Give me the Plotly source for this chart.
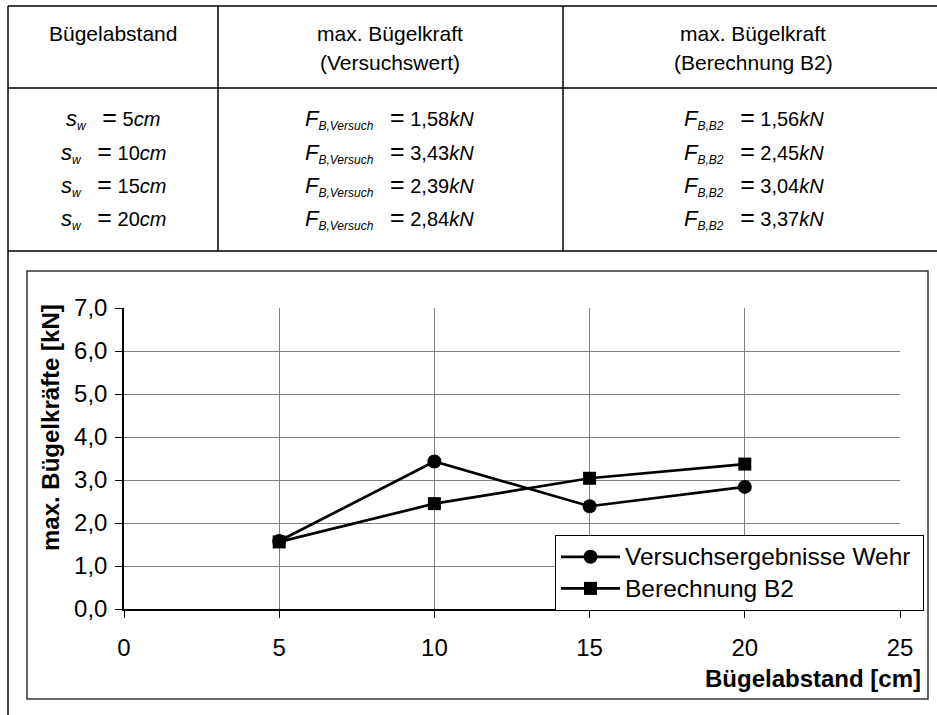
import plotly.graph_objects as go

# ---- data ----
spacing_cm = [5, 10, 15, 20]
force_versuch = [1.58, 3.43, 2.39, 2.84]
force_b2 = [1.56, 2.45, 3.04, 3.37]
series_names = ["Versuchsergebnisse Wehr", "Berechnung B2"]
header_col1 = ["Bügelabstand"]
header_col2 = ["max. Bügelkraft", "(Versuchswert)"]
header_col3 = ["max. Bügelkraft", "(Berechnung B2)"]
x_title = "Bügelabstand [cm]"
y_title = "max. Bügelkräfte [kN]"

W, H = 937, 715
FONT = "Arial, Liberation Sans, sans-serif"
NB = "\u00a0"


def px(x):
    return x / W


def py(y):
    return 1 - y / H


def de(v):
    return f"{v:.2f}".replace(".", ",")


def legend_label(name):
    return f'<span style="font-size:24.5px">{name}{NB}</span>'


fig = go.Figure()
fig.add_trace(go.Scatter(
    x=spacing_cm, y=force_versuch, name=legend_label(series_names[0]), mode="lines+markers",
    line=dict(color="black", width=2.7),
    marker=dict(symbol="circle", size=14, color="black"),
))
fig.add_trace(go.Scatter(
    x=spacing_cm, y=force_b2, name=legend_label(series_names[1]), mode="lines+markers",
    line=dict(color="black", width=2.7),
    marker=dict(symbol="square", size=13, color="black"),
))

shapes = []
line_kw = dict(color="black", width=1.5)
# table lines
shapes.append(dict(type="line", xref="paper", yref="paper", x0=px(8), x1=1, y0=py(6), y1=py(6), line=line_kw))
shapes.append(dict(type="line", xref="paper", yref="paper", x0=px(8), x1=1, y0=py(88), y1=py(88), line=line_kw))
shapes.append(dict(type="line", xref="paper", yref="paper", x0=px(8), x1=1, y0=py(251), y1=py(251), line=line_kw))
shapes.append(dict(type="line", xref="paper", yref="paper", x0=px(8), x1=px(8), y0=py(6), y1=0, line=line_kw))
shapes.append(dict(type="line", xref="paper", yref="paper", x0=px(218), x1=px(218), y0=py(6), y1=py(251), line=line_kw))
shapes.append(dict(type="line", xref="paper", yref="paper", x0=px(563), x1=px(563), y0=py(6), y1=py(251), line=line_kw))
# chart box
shapes.append(dict(type="rect", xref="paper", yref="paper", x0=px(27), x1=px(928), y0=py(699), y1=py(271),
                   line=dict(color="#333333", width=1.5), layer="below"))

ann = []


def add_text(text, x, y, size=20, **kw):
    d = dict(text=text, x=px(x), y=py(y), xref="paper", yref="paper", showarrow=False,
             xanchor="center", yanchor="middle", font=dict(family=FONT, size=size, color="black"))
    d.update(kw)
    ann.append(d)


header_y = [33, 63]
add_text(header_col1[0], 113, 33, size=21)
for j, t in enumerate(header_col2):
    add_text(t, 390, header_y[j], size=21)
for j, t in enumerate(header_col3):
    add_text(t, 753, header_y[j], size=21)

row_y = [118, 152, 185, 218]
SUB = '<span style="font-size:12px">'
BIG = '<span style="font-size:22px">'
EQ = NB * 3 + '<span style="font-size:25px">=</span>' + NB
for i, s in enumerate(spacing_cm):
    add_text(f"{BIG}<i>s</i></span><sub>{SUB}<i>w</i></span></sub>{EQ}{s}<i>cm</i>", 113, row_y[i])
    add_text(f"{BIG}<i>F</i></span><sub>{SUB}<i>B,Versuch</i></span></sub>{EQ}{de(force_versuch[i])}<i>kN</i>",
             389, row_y[i])
    add_text(f"{BIG}<i>F</i></span><sub>{SUB}<i>B,B2</i></span></sub>{EQ}{de(force_b2[i])}<i>kN</i>",
             754, row_y[i])

# axis titles
add_text(f"<b>{y_title}</b>", 50, 428, size=24, textangle=-90)
add_text(f"<b>{x_title}</b>", 923, 678, size=24, xanchor="right")

fig.update_layout(
    width=W, height=H, autosize=False,
    margin=dict(l=0, r=0, t=0, b=0, pad=0, autoexpand=False),
    paper_bgcolor="white", plot_bgcolor="white",
    separators=",.",
    font=dict(family=FONT, size=24, color="black"),
    shapes=shapes, annotations=ann,
    showlegend=True,
    legend=dict(x=px(924), y=py(535), xanchor="right", yanchor="top",
                bordercolor="black", borderwidth=1, bgcolor="white",
                font=dict(family=FONT, size=22, color="black"),
                tracegroupgap=0, itemwidth=59),
    xaxis=dict(domain=[px(124), px(900)], range=[0, 25], dtick=5, tick0=0, automargin=False,
               showgrid=True, gridcolor="#808080", gridwidth=1,
               showline=True, linecolor="black", linewidth=1.5,
               ticks="outside", ticklen=7, tickcolor="black", zeroline=False,
               ticklabelstandoff=9,
               tickfont=dict(family=FONT, size=24, color="black")),
    yaxis=dict(domain=[py(609), py(308)], range=[0, 7], dtick=1, tick0=0, tickformat=".1f", automargin=False,
               showgrid=True, gridcolor="#808080", gridwidth=1,
               showline=True, linecolor="black", linewidth=1.5,
               ticks="outside", ticklen=7, tickcolor="black", zeroline=False,
               ticklabelstandoff=3,
               tickfont=dict(family=FONT, size=24, color="black")),
)

fig.write_html(
    "out.html",
    config={"displayModeBar": False},
    post_script="document.body.style.margin='0';document.body.style.overflow='hidden';",
)
